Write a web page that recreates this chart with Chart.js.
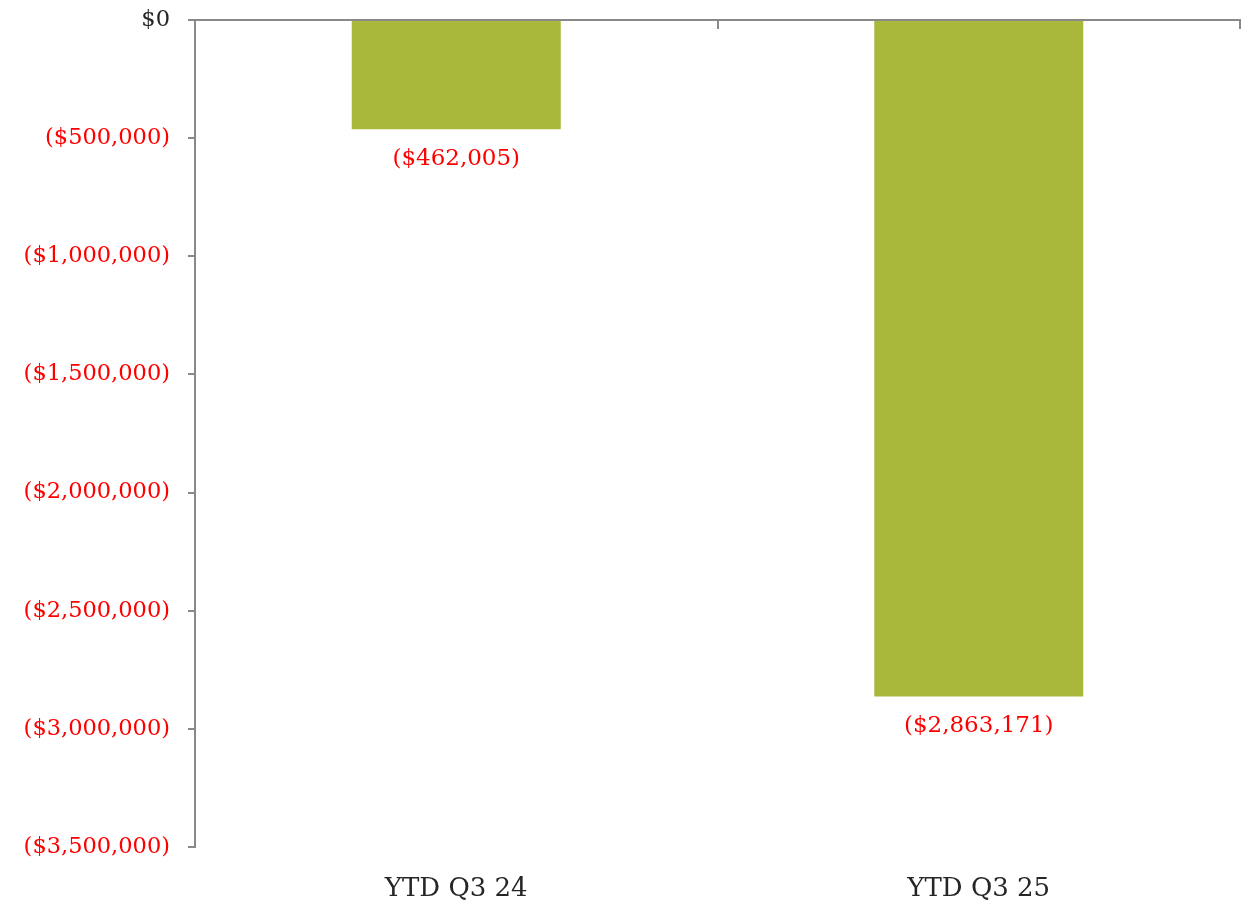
<!DOCTYPE html>
<html>
<head>
<meta charset="utf-8">
<script src="https://cdn.jsdelivr.net/npm/chart.js@4/dist/chart.umd.min.js"></script>
<style>
  html, body { margin: 0; padding: 0; background: #fff; }
  #wrap { width: 1243px; height: 902px; }
</style>
</head>
<body>
<div id="wrap"><canvas id="chart" width="1243" height="902"></canvas></div>
<script>
const categories = ['YTD Q3 24', 'YTD Q3 25'];
const netValues = [-462005, -2863171];
const yTickValues = [0, -500000, -1000000, -1500000, -2000000, -2500000, -3000000, -3500000];

const FONT = '"DejaVu Serif", serif';
const AXIS_GREY = '#898989';

function money(v) {
    const s = '$' + Math.abs(v).toLocaleString('en-US');
    return v < 0 ? '(' + s + ')' : s;
}

// value labels under each bar end + inward tick marks on the top axis
const extras = {
    id: 'extras',
    afterDatasetsDraw(chart) {
        const ctx = chart.ctx;
        const meta = chart.getDatasetMeta(0);
        ctx.save();
        ctx.font = '23px ' + FONT;
        ctx.fillStyle = '#ff0000';
        ctx.textAlign = 'center';
        ctx.textBaseline = 'middle';
        meta.data.forEach((bar, i) => {
            ctx.fillText(money(netValues[i]), bar.x, bar.y + 30);
        });
        ctx.restore();
    },
    afterDraw(chart) {
        const ctx = chart.ctx;
        const x = chart.scales.x;
        const top = chart.chartArea.top;
        ctx.save();
        ctx.strokeStyle = AXIS_GREY;
        ctx.lineWidth = 2;
        for (let i = 1; i <= categories.length; i++) {
            const px = Math.round(x.getPixelForValue(i - 0.5));
            ctx.beginPath();
            ctx.moveTo(px, top);
            ctx.lineTo(px, top + 9);
            ctx.stroke();
        }
        ctx.restore();
    }
};

new Chart(document.getElementById('chart'), {
    type: 'bar',
    data: {
        labels: categories,
        datasets: [{
            data: netValues,
            backgroundColor: '#a9b83a',
            borderWidth: 0,
            barPercentage: 0.4,
            categoryPercentage: 1.0
        }]
    },
    options: {
        responsive: false,
        animation: false,
        layout: { padding: { top: 0, right: 3, bottom: 0, left: 0 } },
        plugins: { legend: { display: false }, tooltip: { enabled: false } },
        scales: {
            x: {
                position: 'bottom',
                grid: { display: false },
                border: { display: false },
                ticks: { font: { family: FONT, size: 26 }, color: '#262626', padding: 19 },
                afterFit(scale) { scale.height = 55; }
            },
            x2: {
                type: 'category',
                labels: categories,
                position: 'top',
                grid: { display: false },
                border: { display: true, color: AXIS_GREY, width: 2 },
                ticks: { display: false },
                afterFit(scale) { scale.height = 20; }
            },
            y: {
                min: -3500000,
                max: 0,
                afterBuildTicks(scale) { scale.ticks = yTickValues.map(v => ({ value: v })); },
                grid: { drawOnChartArea: false, drawTicks: true, tickLength: 7, color: AXIS_GREY, lineWidth: 2 },
                border: { display: true, color: AXIS_GREY, width: 2 },
                ticks: {
                    font: { family: FONT, size: 22.5 },
                    color: ctx => ctx.tick.value < 0 ? '#ff0000' : '#262626',
                    padding: 18,
                    callback: v => money(v)
                },
                afterFit(scale) {
                    scale.width = 195;
                    scale.paddingTop = 0;
                    scale.paddingBottom = 0;
                }
            }
        }
    },
    plugins: [extras]
});
</script>
</body>
</html>
